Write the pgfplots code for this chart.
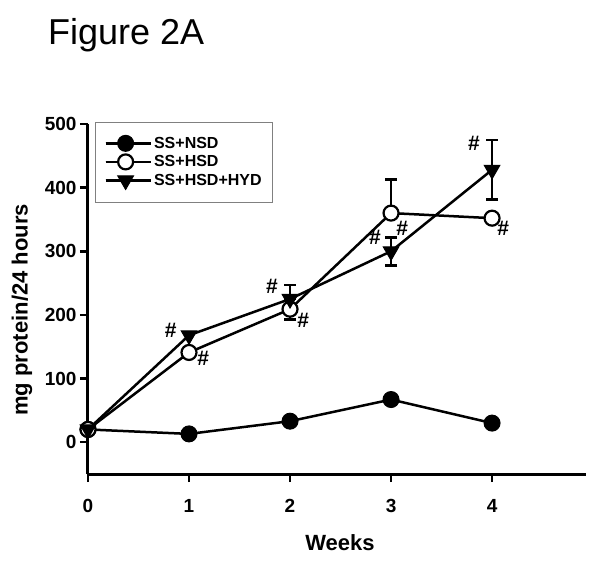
\documentclass[border=0pt]{standalone}
\usepackage{pgfplots}
\pgfplotsset{compat=1.18}
\usepackage{fontspec}
\setmainfont{Liberation Sans}
\begin{document}
\begin{tikzpicture}
\useasboundingbox (-88bp,-100bp) rectangle (512bp,474bp);
\node[anchor=base west,inner sep=0pt,font=\fontsize{36bp}{40bp}\selectfont] at (-40bp,429bp) {Figure 2A};
\begin{axis}[
  at={(0,0)}, anchor=south west,
  scale only axis, width=498bp, height=350bp,
  xmin=0, xmax=4.93, ymin=-50, ymax=500,
  axis lines=left,
  axis line style={-, line width=3bp},
  xtick={0,1,2,3,4}, ytick={0,100,200,300,400,500},
  tick align=outside, major tick length=8bp,
  tick style={line width=2.5bp, black},
  /pgf/number format/assume math mode=true,
  ticklabel style={font=\fontsize{19bp}{22bp}\selectfont\bfseries},
  xticklabel style={yshift=-14bp},
  yticklabel style={xshift=0bp},
  xlabel={Weeks}, ylabel={mg protein/24 hours},
  every axis x label/.style={at={(axis description cs:0.506,-0.197)}, anchor=center, font=\fontsize{22bp}{26bp}\selectfont\bfseries},
  every axis y label/.style={at={(axis description cs:-0.1325,0.469)}, rotate=90, anchor=center, font=\fontsize{22bp}{26bp}\selectfont\bfseries},
  clip=false,
  legend style={at={(rel axis cs:0.014,1.006)}, anchor=north west,
    draw=gray, line width=0.8bp, fill=white,
    font=\fontsize{16bp}{18bp}\selectfont\bfseries,
    inner xsep=9bp, inner ysep=12.5bp, row sep=1.5bp,
    nodes={inner sep=2.2bp}},
  legend cell align=left,
  legend image code/.code={\path (0bp,0bp) -- (45bp,0bp); \draw[mark repeat=2,mark phase=2] plot coordinates {(0bp,0bp) (20bp,0bp) (40bp,0bp)};},
]
\addplot[black, line width=2.5bp, mark=*, mark size=8bp, mark options={solid, fill=black, line width=1bp},
  error bars/.cd, y dir=both, y explicit,
  error bar style={line width=2.5bp, black},
  error mark options={rotate=90, mark size=6bp, line width=2.5bp, black}]
  coordinates {(0,20) (1,13) (2,33) (3,67) +- (0,5) (4,30)};
\addlegendentry{SS+NSD}
\addplot[black, line width=2.5bp, mark=*, mark size=7.5bp, mark options={solid, fill=white, line width=2.2bp},
  error bars/.cd, y dir=both, y explicit,
  error bar style={line width=2.5bp, black},
  error mark options={rotate=90, mark size=6bp, line width=2.5bp, black}]
  coordinates {(0,20) (1,141) (2,209) += (0,0) -= (0,16) (3,360) += (0,53) -= (0,0) (4,352)};
\addlegendentry{SS+HSD}
\addplot[black, line width=2.5bp, mark=triangle*, mark size=9bp, mark options={solid, fill=black, rotate=180, line width=1bp},
  error bars/.cd, y dir=both, y explicit,
  error bar style={line width=2.5bp, black},
  error mark options={rotate=90, mark size=6bp, line width=2.5bp, black}]
  coordinates {(0,20) (1,168) (2,225) += (0,22) -= (0,0) (3,300) +- (0,22) (4,428) +- (0,47)};
\addlegendentry{SS+HSD+HYD}
\begin{scope}[every node/.style={font=\fontsize{21bp}{24bp}\selectfont\bfseries, inner sep=0pt}]
\node at (axis cs:0.82,176) {\#};
\node at (axis cs:1.14,132) {\#};
\node at (axis cs:1.82,245) {\#};
\node at (axis cs:2.13,192) {\#};
\node at (axis cs:2.84,322) {\#};
\node at (axis cs:3.11,336) {\#};
\node at (axis cs:3.82,470) {\#};
\node at (axis cs:4.11,336) {\#};
\end{scope}
\end{axis}
\end{tikzpicture}
\end{document}
